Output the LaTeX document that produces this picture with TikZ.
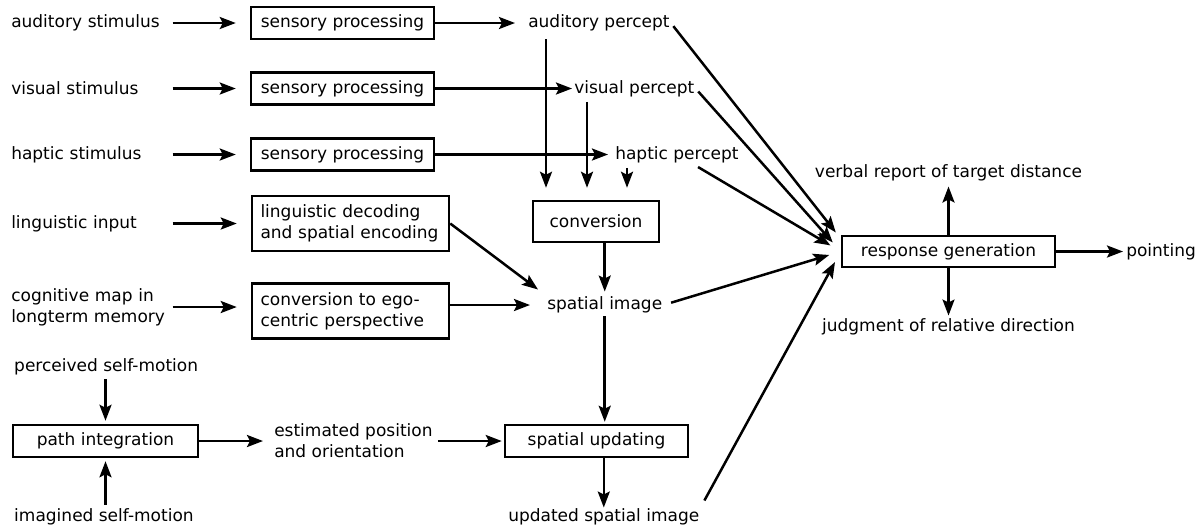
\documentclass[tikz,border=0pt]{standalone}
\usepackage{fontspec}
\setmainfont{DejaVu Sans}
\usetikzlibrary{arrows.meta}

\tikzset{
  box/.style={draw, inner sep=0pt, minimum height=16pt},
  lbl/.style={inner sep=0pt, align=left},
  stim/.style={lbl, anchor=west, text width=80pt},
}

\begin{document}
\begin{tikzpicture}[x=0.5pt, y=-0.5pt, line width=1.25pt,
    >={Stealth[length=8pt,width=6pt,inset=1.5pt]},
    font=\fontsize{8.5}{10.5}\selectfont]
    \useasboundingbox (0,0) rectangle (1202,527);

    % inputs
    \node[stim] at (10, 23) (aud_stim) {auditory stimulus};
    \node[stim] at (10, 88.5) (vis_stim) {visual stimulus};
    \node[stim] at (10, 154.5) (hap_stim) {haptic stimulus};
    \node[stim] at (10, 223.5) (ling_in) {linguistic input};
    \node[stim] at (10, 307) (cog_map) {cognitive map in\\longterm memory};

    \node[box, minimum width=91.5pt] at (342.5, 23) (sp_1) {sensory processing};
    \node[box, minimum width=91.5pt] at (342.5, 88.5) (sp_2) {sensory processing};
    \node[box, minimum width=91.5pt] at (342.5, 154.5) (sp_3) {sensory processing};
    \node[box, text width=90pt, inner xsep=4.25pt, minimum height=27.5pt, align=left]
        at (350.5, 223.5) (ling_box) {linguistic decoding\\and spatial encoding};
    \node[box, text width=90pt, inner xsep=4.25pt, minimum height=27.5pt, align=left]
        at (350.5, 311) (ego_box) {conversion to ego-\\centric perspective};

    \draw[->, shorten >=7pt] (aud_stim) -- (sp_1);
    \draw[->, shorten >=7pt] (vis_stim) -- (sp_2);
    \draw[->, shorten >=7pt] (hap_stim) -- (sp_3);
    \draw[->, shorten >=7pt] (ling_in) -- (ling_box);
    \draw[->, shorten >=7pt] (cog_map.east) -- (cog_map.east -| ego_box.west);

    % percepts
    \node[lbl, anchor=west] at (527, 23) (aud_perc) {auditory percept};
    \node[lbl, anchor=west] at (573, 88.5) (vis_perc) {visual percept};
    \node[lbl, anchor=west] at (614, 154.5) (hap_perc) {haptic percept};
    \draw[->, shorten >=6pt] (sp_1) -- (aud_perc);
    \draw[->, shorten >=0.5pt] (sp_2) -- (vis_perc);
    \draw[->, shorten >=3pt] (sp_3) -- (hap_perc);

    \node[box, minimum width=63pt, minimum height=20.5pt] at (596, 221.5) (conv) {conversion};
    \draw[->, shorten <=3.5pt, shorten >=6pt] ([xshift=9.5pt]aud_perc.south west)
        -- ([xshift=9.5pt]aud_perc.south west |- conv.north);
    \draw[->, shorten <=2pt, shorten >=6pt] ([xshift=7pt]vis_perc.south west)
        -- ([xshift=7pt]vis_perc.south west |- conv.north);
    \draw[->, shorten <=2pt, shorten >=6pt] ([xshift=6.5pt]hap_perc.south west)
        -- ([xshift=6.5pt]hap_perc.south west |- conv.north);

    % spatial image
    \node[lbl, anchor=west] at (546, 305) (sp_img) {spatial image};
    \draw[->, shorten >=2pt] (conv.south -| sp_img) -- (sp_img);
    \draw[->, shorten >=5pt] (ling_box.east) -- (sp_img.north west);
    \draw[->, shorten >=8pt] (ego_box.east |- sp_img.west) -- (sp_img.west);

    % self-motion
    \node[lbl, anchor=west] at (13, 367) (perc_sm) {perceived self-motion};
    \node[lbl, anchor=west] at (13, 517) (imag_sm) {imagined self-motion};
    \node[box, minimum width=92.5pt] at (105.5, 441) (path_int) {path integration};
    \node[lbl, anchor=west] at (273, 441) (est_pos) {estimated position\\and orientation};
    \node[box, minimum width=91.5pt] at (596.5, 441) (sp_upd) {spatial updating};
    \node[lbl, anchor=west] at (507, 517) (upd_img) {updated spatial image};

    \draw[->, shorten <=1.5pt, shorten >=1.5pt] (perc_sm.south -| path_int) -- (path_int);
    \draw[->, shorten <=1.5pt, shorten >=1.5pt] (imag_sm.north -| path_int) -- (path_int);
    \draw[->, shorten >=5pt] (path_int) -- (path_int -| est_pos.west);
    \draw[->, shorten <=2pt, shorten >=1pt] (est_pos) -- (sp_upd);
    \draw[->, shorten <=1pt, shorten >=1pt] (sp_img) -- (sp_img |- sp_upd.north);
    \draw[->] (sp_upd.south -| upd_img) -- (upd_img);

    % response
    \node[box, minimum width=106.5pt, minimum height=15.5pt] at (948.5, 251.5) (resp) {response generation};
    \node[lbl] at (948.5, 173) (verbal) {verbal report of target distance};
    \node[lbl] at (948.5, 327) (judg) {judgment of relative direction};
    \node[lbl, anchor=west] at (1125, 251.5) (pointing) {pointing};
    \draw[->, shorten >=2pt] (resp) -- (verbal);
    \draw[->, shorten >=1pt] (resp) -- (judg);
    \draw[->, shorten >=1pt] (resp) -- (pointing);

    \draw[->, shorten <=2pt, shorten >=4pt] (aud_perc.east) -- ([yshift=-2pt]resp.north west);
    \draw[->, shorten <=2pt, shorten >=6pt] (vis_perc.east) -- (resp.west);
    \draw[->, shorten <=3pt, shorten >=6pt] (hap_perc) -- (resp.west);
    \draw[->, shorten <=4pt, shorten >=6pt] (sp_img.east) -- (resp.west);
    \draw[->, shorten <=4pt, shorten >=6pt] (upd_img.north east) -- (resp.west);
\end{tikzpicture}
\end{document}
